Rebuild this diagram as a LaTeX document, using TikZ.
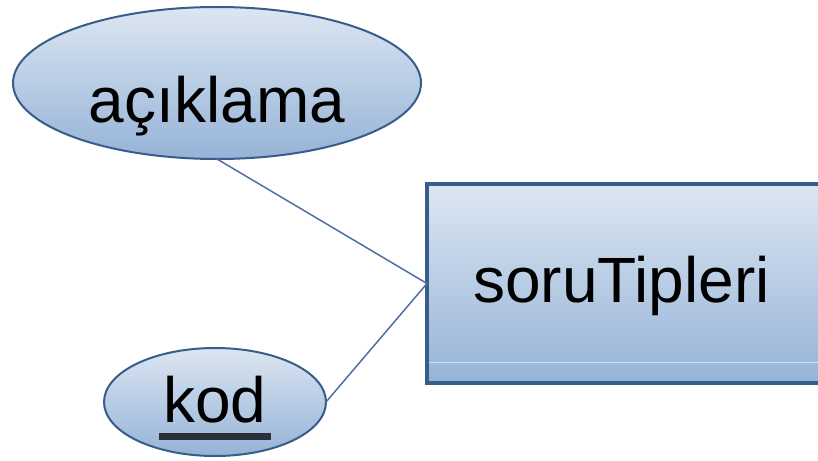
\documentclass[tikz,border=0pt]{standalone}
\usepackage{fontspec}
\setmainfont{Liberation Sans}
\usetikzlibrary{shapes.geometric}
\definecolor{kenar}{RGB}{56,93,138}
\definecolor{ust}{RGB}{220,230,242}
\definecolor{alt}{RGB}{149,179,215}
\definecolor{cizgi}{RGB}{79,111,160}
\definecolor{altcizgi}{RGB}{43,47,58}
\newsavebox{\kodkutu}
\newcommand{\altciz}[1]{\sbox{\kodkutu}{#1}\usebox{\kodkutu}\llap{\textcolor{altcizgi}{\rule[-18pt]{\dimexpr\wd\kodkutu+8pt\relax}{7pt}}\kern-4pt}}

\begin{document}
\begin{tikzpicture}[x=1pt, y=-1pt,
  kutu/.style={draw=kenar, top color=ust, bottom color=alt, inner sep=0pt, outer sep=0pt,
    font=\fontsize{64}{70}\selectfont}]
  \useasboundingbox (0, 0) rectangle (818, 460);
  \clip (0, 0) rectangle (818, 460);

  \node[kutu, ellipse, line width=2pt, minimum width=408pt, minimum height=152pt,
    text height=78pt, text depth=0pt] (A) at (217, 83) {açıklama};
  \node[kutu, ellipse, line width=2pt, minimum width=222pt, minimum height=108pt,
    text height=48pt, text depth=8pt] (K) at (215, 402) {\altciz{kod}};
  % box runs past the right edge, text sits left of its centre
  \node[kutu, rectangle, line width=4pt, minimum width=423pt, minimum height=199pt,
    text height=47pt, text depth=10pt] (S) at (638.5, 283.5) {soruTipleri\rule{34pt}{0pt}};

  \draw[white!60!alt, line width=1pt] ([xshift=2pt, yshift=21pt]S.south west) -- ([yshift=21pt]S.south east);

  \draw[cizgi, line width=1.5pt] (A.south) -- (S.west);
  \draw[cizgi, line width=1.5pt] (K.east) -- (S.west);
\end{tikzpicture}
\end{document}
